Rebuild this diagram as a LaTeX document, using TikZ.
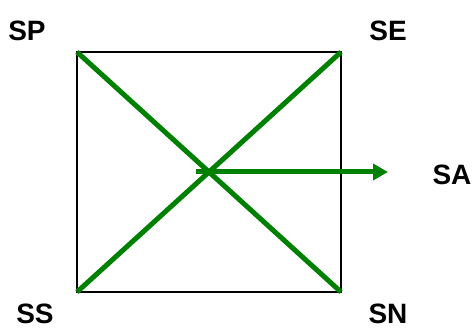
\documentclass[tikz,border=0pt]{standalone}
\usepackage{fontspec}
\setmainfont{Liberation Sans}
\usetikzlibrary{arrows.meta}

\begin{document}
\begin{tikzpicture}[x=1pt,y=-1pt,
    lbl/.style={inner sep=0pt,font=\fontsize{28}{30}\selectfont\bfseries},
    diag/.style={line width=5pt,draw={rgb,255:red,0;green,128;blue,0}}]
  \useasboundingbox (0,0) rectangle (472,329);
  \coordinate (nw) at (77,52);
  \coordinate (ne) at (341,52);
  \coordinate (se) at (341,292);
  \coordinate (sw) at (77,292);
  \coordinate (start) at (196,172);
  \coordinate (tip) at (388,172);
  \draw [line width=1.6pt] (nw) rectangle (se);
  \draw [diag] (nw) -- (se);
  \draw [diag] (sw) -- (ne);
  \draw [diag,-{Triangle[length=15pt,width=16pt]}] (start) -- (tip);
  \node [lbl] (sp) at (27,31) {SP};
  \node [lbl] (sep) at (388,31) {SE};
  \node [lbl] (sa) at (452,175) {SA};
  \node [lbl] (ss) at (35,314) {SS};
  \node [lbl] (sn) at (388,314) {SN};
\end{tikzpicture}
\end{document}
